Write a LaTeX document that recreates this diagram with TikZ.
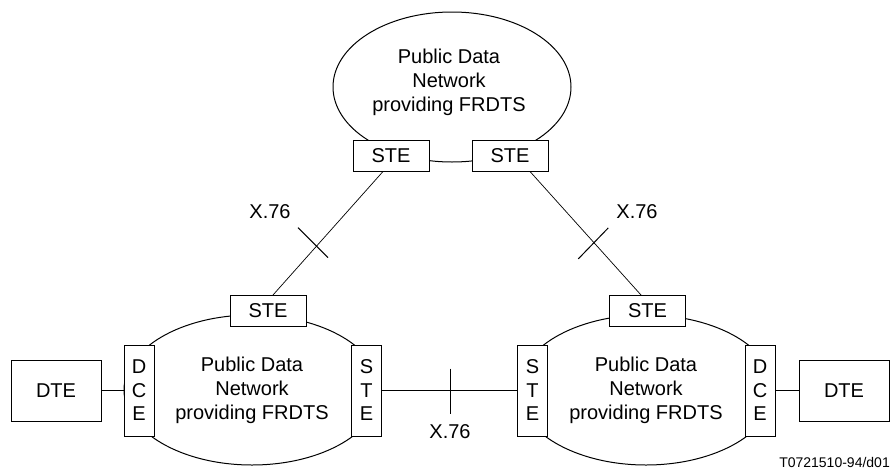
\documentclass[tikz,border=0pt]{standalone}
\usepackage{fontspec}
\setmainfont{Liberation Sans}
\usetikzlibrary{shapes.geometric, positioning, calc}
\tikzstyle{netcloud} = [draw, ellipse, line width=1pt, inner sep=0pt, align=center, font=\fontsize{20}{24}\selectfont]
\tikzstyle{stebox} = [draw, rectangle, fill=white, line width=1pt, minimum width=76pt, minimum height=31pt, inner sep=0pt, font=\fontsize{20}{24}\selectfont]
\tikzstyle{vbox} = [draw, rectangle, fill=white, line width=1pt, minimum width=30pt, minimum height=91pt, inner sep=0pt, align=center, font=\fontsize{20}{23.5}\selectfont]
\tikzstyle{dtebox} = [draw, rectangle, line width=1pt, minimum width=90pt, minimum height=61pt, inner sep=0pt, font=\fontsize{20}{24}\selectfont]
\tikzstyle{trunk} = [line width=0.7pt]
\tikzstyle{access} = [line width=1.6pt]
\tikzstyle{crossmark} = [line width=1pt]
\tikzstyle{lbl} = [inner sep=0pt, align=center, font=\fontsize{20}{24}\selectfont]

\begin{document}
\begin{tikzpicture}[x=1pt, y=-1pt]
    \useasboundingbox (0,0) rectangle (894,471);

    % the three networks
    \node (pdnT) [netcloud, minimum width=238pt, minimum height=150pt] at (452,87) {};
    \node (pdnTtxt) [lbl] at (449,82) {Public Data\\Network\\providing FRDTS};
    \node (pdnL) [netcloud, minimum width=256pt, minimum height=150pt] at (252,390) {Public Data\\Network\\providing FRDTS};
    \node (pdnR) [netcloud, minimum width=256pt, minimum height=150pt] at (646,390) {Public Data\\Network\\providing FRDTS};

    % exchanges on the networks
    \node (tsL) [stebox] at (391,155.5) {STE};
    \node (tsR) [stebox] at (510,155.5) {STE};
    \node (lsT) [stebox] at (268,311) {STE};
    \node (rsT) [stebox] at (647.5,311) {STE};
    \node (ldce) [vbox] at (139,390.5) {D\\C\\E};
    \node (lste) [vbox] at (366.5,390.5) {S\\T\\E};
    \node (rste) [vbox] at (532.5,390.5) {S\\T\\E};
    \node (rdce) [vbox] at (760,390.5) {D\\C\\E};
    \node (ldte) [dtebox, left=22pt of ldce] {DTE};
    \node (rdte) [dtebox, right=23pt of rdce] {DTE};

    % links
    \draw [access] (ldte) -- (ldce);
    \draw [access] (rdce) -- (rdte);
    \draw [access] (lste) -- coordinate[pos=0.507] (xc) (rste);
    \draw [trunk] ([xshift=-8pt]tsL.south) -- coordinate[pos=0.6] (xa) ([xshift=5pt]lsT.north);
    \draw [trunk] ([xshift=20pt]tsR.south) -- coordinate[pos=0.57] (xb) ([xshift=-6.5pt]rsT.north);

    % X.76 marks
    \draw [crossmark] ($(xa)+(-19,-18)$) -- ($(xa)+(11,12)$);
    \draw [crossmark] ($(xb)+(-15,17)$) -- ($(xb)+(15,-14)$);
    \draw [access] ($(xc)+(0,-22)$) -- ($(xc)+(0,23)$);
    \node (x76a) [lbl] at (270,212) {X.76};
    \node (x76b) [lbl] at (637,212) {X.76};
    \node (x76c) [lbl] at (450,432) {X.76};

    \node (figid) [anchor=east, inner sep=0pt, font=\fontsize{14}{16}\selectfont] at (890,462) {T0721510-94/d01};
\end{tikzpicture}
\end{document}
